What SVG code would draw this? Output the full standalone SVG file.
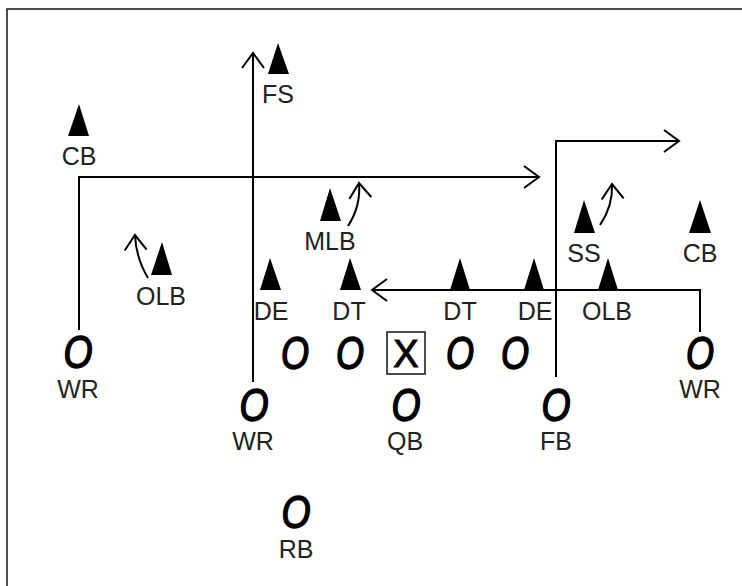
<svg xmlns="http://www.w3.org/2000/svg" width="742" height="586" viewBox="0 0 742 586">
<style>
.lbl{font-family:"Liberation Sans",Arial,sans-serif;font-size:25px;fill:#222;text-anchor:middle}
.o{font-family:"Liberation Sans",Arial,sans-serif;font-size:46px;font-style:italic;fill:#000;stroke:#000;stroke-width:1.6;text-anchor:middle}
.tri{fill:#000}
.route{fill:none;stroke:#000;stroke-width:2;stroke-linejoin:miter}
</style>
<defs>
<marker id="arr" markerUnits="userSpaceOnUse" markerWidth="22" markerHeight="28" viewBox="-18 -14 22 28" refX="0" refY="0" orient="auto">
<path d="M-15,-11 L0,0 L-15,11" fill="none" stroke="#000" stroke-width="2"/>
</marker>
</defs>
<rect x="7" y="9" width="760" height="600" fill="#fff" stroke="#111" stroke-width="1.5"/>
<g id="connectors">
<path class="route" d="M79,330 L79,177 L539,177" marker-end="url(#arr)"/>
<path class="route" d="M253,382 L253,53" marker-end="url(#arr)"/>
<path class="route" d="M556,377 L556,141 L679,141" marker-end="url(#arr)"/>
<path class="route" d="M700,332 L700,290 L372,290" marker-end="url(#arr)"/>
<path class="route" d="M348,226 Q361,206 359,183" marker-end="url(#arr)"/>
<path class="route" d="M148,278 Q136,258 135,235" marker-end="url(#arr)"/>
<path class="route" d="M600,225 Q613,206 612,184" marker-end="url(#arr)"/>
</g>
<g id="FS"><polygon class="tri" points="278,43 268,74 289,74"/><text class="lbl" x="278" y="103">FS</text></g>
<g id="CB-left"><polygon class="tri" points="79,104 68,136 89,136"/><text class="lbl" x="79" y="165">CB</text></g>
<g id="MLB"><polygon class="tri" points="330,188 320,221 341,221"/><text class="lbl" x="330" y="250">MLB</text></g>
<g id="OLB-left"><polygon class="tri" points="162,242 151,275 172,275"/><text class="lbl" x="161" y="305">OLB</text></g>
<g id="DE-left"><polygon class="tri" points="270,258 260,290 281,290"/><text class="lbl" x="271" y="320">DE</text></g>
<g id="DT-left"><polygon class="tri" points="350,258 340,290 361,290"/><text class="lbl" x="349" y="320">DT</text></g>
<g id="DT-right"><polygon class="tri" points="460,258 450,290 470,290"/><text class="lbl" x="460" y="320">DT</text></g>
<g id="DE-right"><polygon class="tri" points="534,258 524,290 544,290"/><text class="lbl" x="535" y="320">DE</text></g>
<g id="OLB-right"><polygon class="tri" points="608,258 598,290 618,290"/><text class="lbl" x="607" y="320">OLB</text></g>
<g id="SS"><polygon class="tri" points="584,200 574,233 595,233"/><text class="lbl" x="584" y="262">SS</text></g>
<g id="CB-right"><polygon class="tri" points="700,200 689,233 711,233"/><text class="lbl" x="700" y="262">CB</text></g>
<g id="WR-left"><text class="o" x="78" y="368" textLength="29" lengthAdjust="spacingAndGlyphs">O</text><text class="lbl" x="78" y="398">WR</text></g>
<g id="OL-1"><text class="o" x="295" y="369" textLength="28" lengthAdjust="spacingAndGlyphs">O</text></g>
<g id="OL-2"><text class="o" x="350" y="369" textLength="28" lengthAdjust="spacingAndGlyphs">O</text></g>
<g id="C"><rect x="387" y="332" width="38" height="42" fill="none" stroke="#111" stroke-width="1.5"/><text x="406" y="367" font-family="Liberation Sans,Arial,sans-serif" font-size="38" text-anchor="middle" fill="#000" stroke="#000" stroke-width="1">X</text></g>
<g id="OL-3"><text class="o" x="460" y="369" textLength="28" lengthAdjust="spacingAndGlyphs">O</text></g>
<g id="OL-4"><text class="o" x="515" y="369" textLength="28" lengthAdjust="spacingAndGlyphs">O</text></g>
<g id="WR-right"><text class="o" x="700" y="369" textLength="28" lengthAdjust="spacingAndGlyphs">O</text><text class="lbl" x="700" y="398">WR</text></g>
<g id="WR-mid"><text class="o" x="254" y="421" textLength="29" lengthAdjust="spacingAndGlyphs">O</text><text class="lbl" x="253" y="450">WR</text></g>
<g id="QB"><text class="o" x="406" y="421" textLength="29" lengthAdjust="spacingAndGlyphs">O</text><text class="lbl" x="405" y="450">QB</text></g>
<g id="FB"><text class="o" x="556" y="421" textLength="29" lengthAdjust="spacingAndGlyphs">O</text><text class="lbl" x="556" y="450">FB</text></g>
<g id="RB"><text class="o" x="296" y="528" textLength="29" lengthAdjust="spacingAndGlyphs">O</text><text class="lbl" x="296" y="558">RB</text></g>
</svg>
